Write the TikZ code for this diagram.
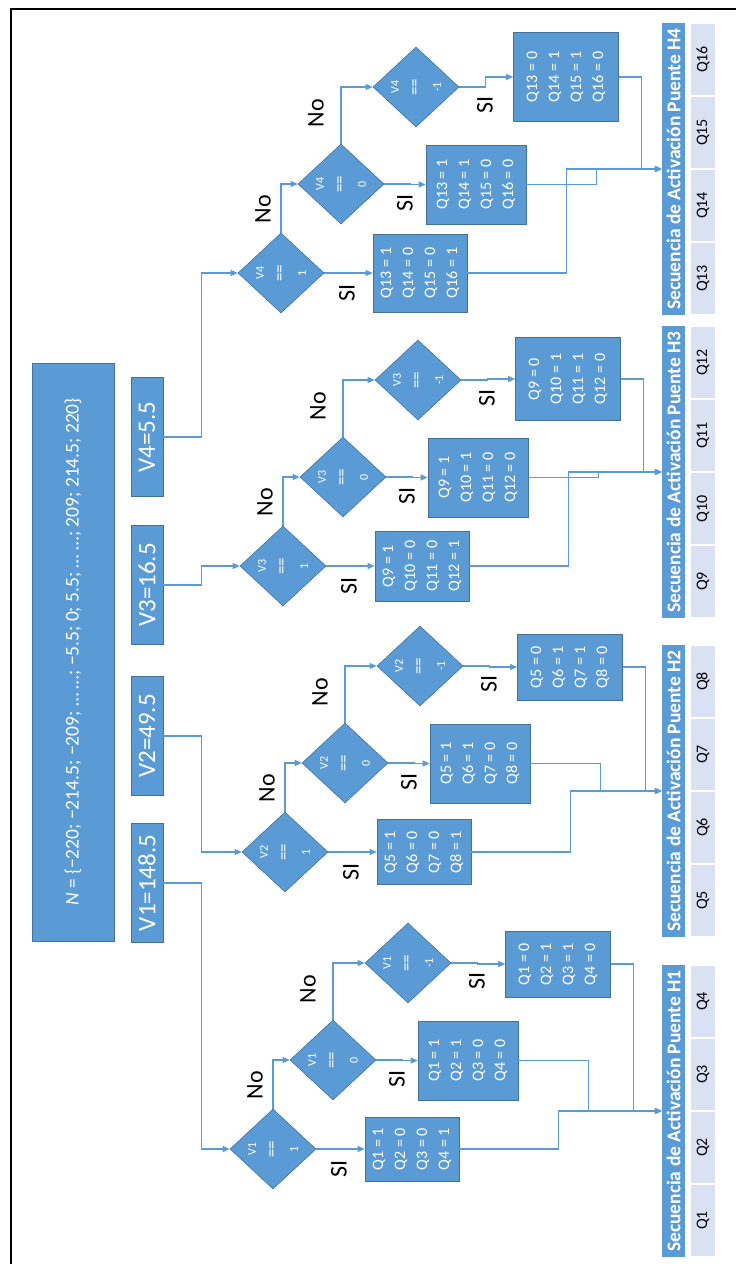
\documentclass[tikz,border=0pt]{standalone}
\usepackage{fontspec}
\setmainfont{Carlito}
\usetikzlibrary{arrows.meta,shapes.geometric}
\definecolor{boxblue}{HTML}{5B9BD5}
\definecolor{boxedge}{HTML}{41719C}
\definecolor{cellblue}{HTML}{D9E1F2}
\definecolor{lineblue}{HTML}{5B9BD5}
\newcommand{\eqeq}{{\fontsize{17}{21}\selectfont==}}

\begin{document}
\begin{tikzpicture}[x=1pt,y=1pt,>={Triangle[length=7pt,width=6pt]},
  every node/.append style={rotate=90},
  vbox/.style={draw=boxedge,fill=boxblue,text=white,inner sep=0pt,line width=0.6pt},
  vlab/.style={vbox,minimum width=119,minimum height=32,font=\fontsize{25}{25}\selectfont},
  decision/.style={vbox,shape=diamond,minimum width=80,minimum height=86,align=center,
    font=\fontsize{12}{21}\selectfont},
  qbox/.style={vbox,align=center,font=\fontsize{16}{22}\selectfont},
  hdr/.style={fill=boxblue,text=white,inner sep=0pt,minimum width=292,minimum height=23,
    font=\bfseries\fontsize{19.5}{20}\selectfont},
  cell/.style={fill=cellblue,draw=white,line width=1.2pt,inner sep=0pt,minimum width=73,
    minimum height=26,font=\fontsize{16}{16}\selectfont},
  lab/.style={font=\fontsize{24}{24}\selectfont},
  flow/.style={draw=lineblue,line width=1.2pt,->}]
  \useasboundingbox (0,-1264) rectangle (736,0);
  \draw[line width=2.5pt] (11,-1264) -- (11,-9) -- (736,-9);
  \node[vbox,minimum width=578,minimum height=82,font=\fontsize{19.5}{20}\selectfont] (set) at (73,-652)
    {\textit{N} = \{−220; −214.5; −209; … …; −5.5; 0; 5.5; … …; 209; 214.5; 220\}};
  % one block per H bridge: V box, three tests, three outputs, table
  \foreach \k/\px/\py/\tb/\vp/\wa/\wc/\oc/\val in {1/273/1149/965/883/64/66/185/148.5,
      2/285/852/645/736/65/66/185/49.5, 3/283/566/326/585/70/83/187/16.5,
      4/281/273/23/437/78/89/196/5.5}{
    \pgfmathtruncatemacro{\qa}{4*\k-3}
    \pgfmathtruncatemacro{\qb}{4*\k-2}
    \pgfmathtruncatemacro{\qc}{4*\k-1}
    \pgfmathtruncatemacro{\qd}{4*\k}
    \node[vlab] (v\k) at (147,-\vp) {V\k=\val};
    \begin{scope}[shift={(\px,-\py)}]
      \node[decision] (dp\k) at (0,0) {V\k\\\eqeq\\1};
      \node[decision] (dz\k) at (60,89) {V\k\\\eqeq\\0};
      \node[decision] (dn\k) at (135,186) {V\k\\\eqeq\\-1};
      \node[qbox,minimum width=\wa,minimum height=94] (bp\k) at (139,0)
        {Q\qa{} = 1\\Q\qb{} = 0\\Q\qc{} = 0\\Q\qd{} = 1};
      \node[qbox,minimum width=79,minimum height=100] (bz\k) at (195,88.5)
        {Q\qa{} = 1\\Q\qb{} = 1\\Q\qc{} = 0\\Q\qd{} = 0};
      \node[qbox,minimum width=\wc,minimum height=105] (bn\k) at (285,\oc)
        {Q\qa{} = 0\\Q\qb{} = 1\\Q\qc{} = 1\\Q\qd{} = 0};
      \node[lab] (sp\k) at (66,-20) {SI};
      \node[lab] (sz\k) at (124,70) {SI};
      \node[lab] (sn\k) at (204,168) {SI};
      \node[lab] (np\k) at (-18,64) {No};
      \node[lab] (nz\k) at (35,160) {No};
    \end{scope}
    \node[hdr] (hd\k) at (673.5,-\tb-146) {Secuencia de Activación Puente H\k};
    \foreach \j in {1,...,4}{
      \pgfmathtruncatemacro{\q}{4*\k-4+\j}
      \node[cell] (cl\k\j) at (703,-\tb-292+73*\j-36.5) {Q\q};
    }
    \draw[flow] (v\k.south) -- ++(38,0) |- (dp\k.north);
    \draw[flow] (dp\k.east) |- (dz\k.north);
    \draw[flow] (dz\k.east) |- (dn\k.north);
    \draw[flow] (dp\k.south) -- ++(26,0) |- (bp\k.north);
    \draw[flow] (dz\k.south) -- ++(26,0) |- (bz\k.north);
    \draw[flow] (dn\k.south) -- ++(26,0) |- (bn\k.north);
    \draw[flow] (bp\k.south) -- ++(99,0) |- (hd\k.north);
    \draw[flow] (bz\k.south) -- ++(70,0) |- (hd\k.north);
    \draw[flow] (bn\k.south) -- ++(23,0) |- (hd\k.north);
  }
\end{tikzpicture}
\end{document}
